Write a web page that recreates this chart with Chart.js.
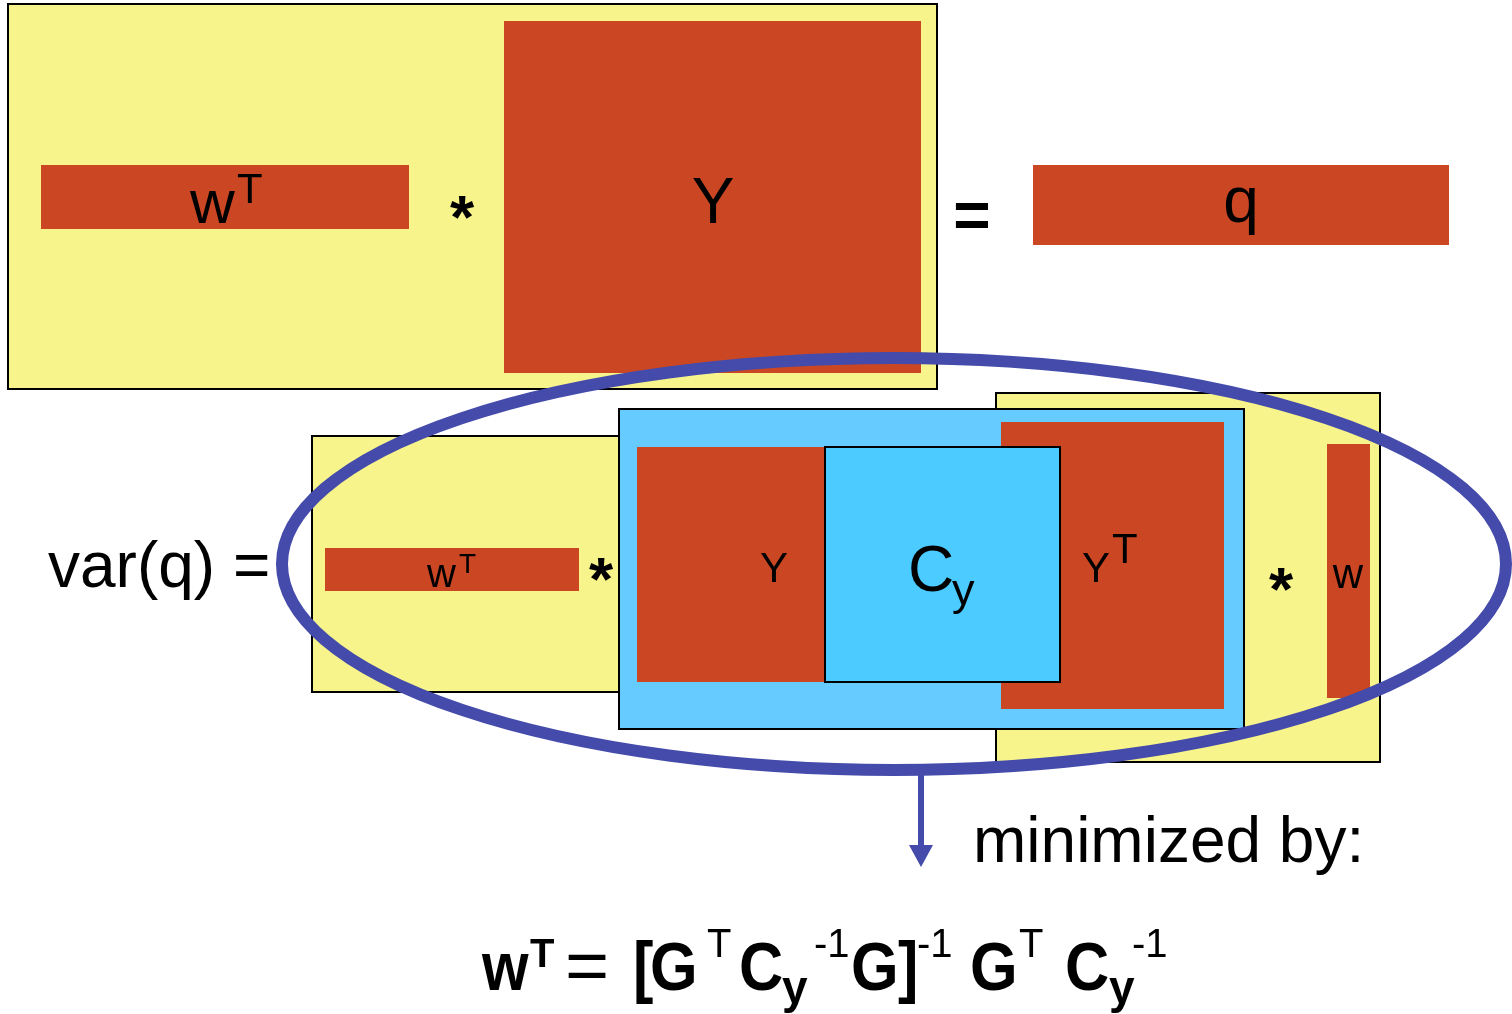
<!DOCTYPE html>
<html>
<head>
<meta charset="utf-8">
<title>var(q)</title>
<script src="https://cdn.jsdelivr.net/npm/chart.js@4.4.1/dist/chart.umd.min.js"></script>
<style>
	html, body { margin: 0; padding: 0; background: #fff; }
	#wrap { width: 1512px; height: 1014px; position: relative; }
</style>
</head>
<body>
<div id="wrap"><canvas id="c"></canvas></div>
<script>
	'use strict';

	// DIAGRAM DATA (units of the 1512 x 1014 sheet)
	// =============================================

	// matrix frames: x0, y0, x1, y1
	var yellowFrames = [[8, 4, 937, 389], [312, 436, 619, 692], [996, 393, 1380, 762]]
	var blueFrames   = [[619, 409, 1244, 729]]
	var redBlocks    = [[41, 165, 409, 229], [504, 21, 921, 373], [1033, 165, 1449, 245],
	                    [325, 548, 579, 591], [637, 447, 1000, 682], [1001, 422, 1224, 709], [1327, 444, 1370, 698]]
	var covBlock     = [825, 447, 1060, 682]

	// the loop round var(q): cx, cy, rx, ry and the arrow: x, y from, y to
	var loop  = [894, 564, 612, 206]
	var arrow = [921, 770, 867]

	// labels: text, x, baseline, font size, weight, align
	var labels = [
		['w', 190, 223, 62, 'normal', 'left'], ['T', 237, 203, 42, 'normal', 'left'],
		['Y', 713, 223, 64, 'normal', 'center'], ['q', 1241, 222, 64, 'normal', 'center'],
		['var(q) =', 48, 587, 64, 'normal', 'left'],
		['w', 427, 587, 40, 'normal', 'left'], ['T', 459, 573, 28, 'normal', 'left'],
		['Y', 774, 582, 42, 'normal', 'center'],
		['C', 908, 591, 64, 'normal', 'left'], ['y', 952, 605, 45, 'normal', 'left'],
		['Y', 1082, 582, 42, 'normal', 'left'], ['T', 1112, 563, 42, 'normal', 'left'],
		['w', 1348, 588, 42, 'normal', 'center'],
		['minimized by:', 973, 862, 64, 'normal', 'left']
	]

	// operators drawn centred on a point: glyph, cx, cy, size
	var operators = [['*', 462, 207, 62], ['=', 972, 215, 64], ['*', 601, 569, 62], ['*', 1281, 579, 62]]

	// w^T = [G^T Cy^-1 G]^-1 G^T Cy^-1 : text, x, baseline, size, weight, horizontal squeeze
	var formula = [
		['w', 482, 990, 68, 'bold', 0.88], ['T', 530, 967, 40, 'bold', 1], ['=', 565, 990, 72, 'normal', 1.05],
		['[', 633, 990, 68, 'bold', 0.9], ['G', 650, 990, 68, 'bold', 0.9], ['T', 707, 957, 40, 'normal', 1],
		['C', 739, 990, 68, 'bold', 0.9], ['y', 782, 1003, 46, 'bold', 1], ['-1', 814, 957, 40, 'normal', 1],
		['G', 851, 990, 68, 'bold', 0.9], [']', 898, 990, 68, 'bold', 0.9], ['-1', 917, 957, 40, 'normal', 1],
		['G', 970, 990, 68, 'bold', 0.9], ['T', 1019, 957, 40, 'normal', 1],
		['C', 1065, 990, 68, 'bold', 0.9], ['y', 1109, 1003, 46, 'bold', 1], ['-1', 1132, 957, 40, 'normal', 1]
	]

	var FONT = '"Liberation Sans", Arial, Helvetica, sans-serif'
	var YELLOW = '#F7F48C', RED = '#CB4724', BLUE = '#66CCFF', COV = '#4BCBFF', LOOP = '#444BAA'

	// DIAGRAM PLUGIN
	// ==============

	var diagram = {
		id: 'diagram',
		afterDraw: function (chart) {
			var ctx = chart.ctx
			var sx  = chart.scales.x
			var sy  = chart.scales.y
			var px  = function (v) { return sx.getPixelForValue(v) }
			var py  = function (v) { return sy.getPixelForValue(v) }

			var rect = function (r, fill, border) {
				var x = px(r[0]), y = py(r[1])
				var w = px(r[2]) - x, h = py(r[3]) - y
				ctx.fillStyle = fill
				ctx.fillRect(x, y, w, h)
				if (border) {
					ctx.lineWidth = 2
					ctx.strokeStyle = '#000'
					ctx.strokeRect(x, y, w, h)
				}
			}

			var text = function (t, x, y, size, weight, align, squeeze) {
				ctx.save()
				ctx.font = weight + ' ' + size + 'px ' + FONT
				ctx.textAlign = align || 'left'
				ctx.textBaseline = 'alphabetic'
				ctx.fillStyle = '#000'
				ctx.translate(px(x), py(y))
				ctx.scale(squeeze || 1, 1)
				ctx.fillText(t, 0, 0)
				ctx.restore()
			}

			ctx.save()

			// top row: w^T * Y = q
			rect(yellowFrames[0], YELLOW, true)
			rect(redBlocks[0], RED)
			rect(redBlocks[1], RED)
			rect(redBlocks[2], RED)

			// second row
			rect(yellowFrames[1], YELLOW, true)
			rect(yellowFrames[2], YELLOW, true)
			rect(blueFrames[0], BLUE, true)
			rect(redBlocks[3], RED)
			rect(redBlocks[4], RED)
			rect(redBlocks[5], RED)
			rect(covBlock, COV, true)
			rect(redBlocks[6], RED)

			labels.forEach(function (l) { text(l[0], l[1], l[2], l[3], l[4], l[5]) })

			operators.forEach(function (o) {
				ctx.font = 'bold ' + o[3] + 'px ' + FONT
				ctx.textAlign = 'center'
				ctx.textBaseline = 'alphabetic'
				var m = ctx.measureText(o[0])
				var off = (m.actualBoundingBoxAscent - m.actualBoundingBoxDescent) / 2
				ctx.fillStyle = '#000'
				ctx.fillText(o[0], px(o[1]), py(o[2]) + off)
			})

			// the loop
			ctx.beginPath()
			ctx.ellipse(px(loop[0]), py(loop[1]), px(loop[0] + loop[2]) - px(loop[0]), py(loop[1] + loop[3]) - py(loop[1]), 0, 0, Math.PI * 2)
			ctx.lineWidth = 12
			ctx.strokeStyle = LOOP
			ctx.stroke()

			// arrow down to the solution
			ctx.beginPath()
			ctx.moveTo(px(arrow[0]), py(arrow[1]))
			ctx.lineTo(px(arrow[0]), py(arrow[2] - 20))
			ctx.lineWidth = 6
			ctx.stroke()
			ctx.beginPath()
			ctx.moveTo(px(arrow[0] - 12), py(arrow[2] - 22))
			ctx.lineTo(px(arrow[0] + 12), py(arrow[2] - 22))
			ctx.lineTo(px(arrow[0]), py(arrow[2]))
			ctx.closePath()
			ctx.fillStyle = LOOP
			ctx.fill()

			formula.forEach(function (f) { text(f[0], f[1], f[2], f[3], f[4], 'left', f[5]) })

			ctx.restore()
		}
	}

	// CHART
	// =====

	var chart = new Chart(document.getElementById('c'), {
		type: 'scatter',
		data: { datasets: [{ data: [], pointRadius: 0 }] },
		options: {
			responsive: true,
			maintainAspectRatio: false,
			devicePixelRatio: 1,
			animation: false,
			layout: { padding: 0 },
			plugins: { legend: { display: false }, tooltip: { enabled: false } },
			scales: {
				x: { type: 'linear', min: 0, max: 1512, display: false },
				y: { type: 'linear', min: 0, max: 1014, reverse: true, display: false }
			}
		},
		plugins: [diagram]
	})
</script>
</body>
</html>
